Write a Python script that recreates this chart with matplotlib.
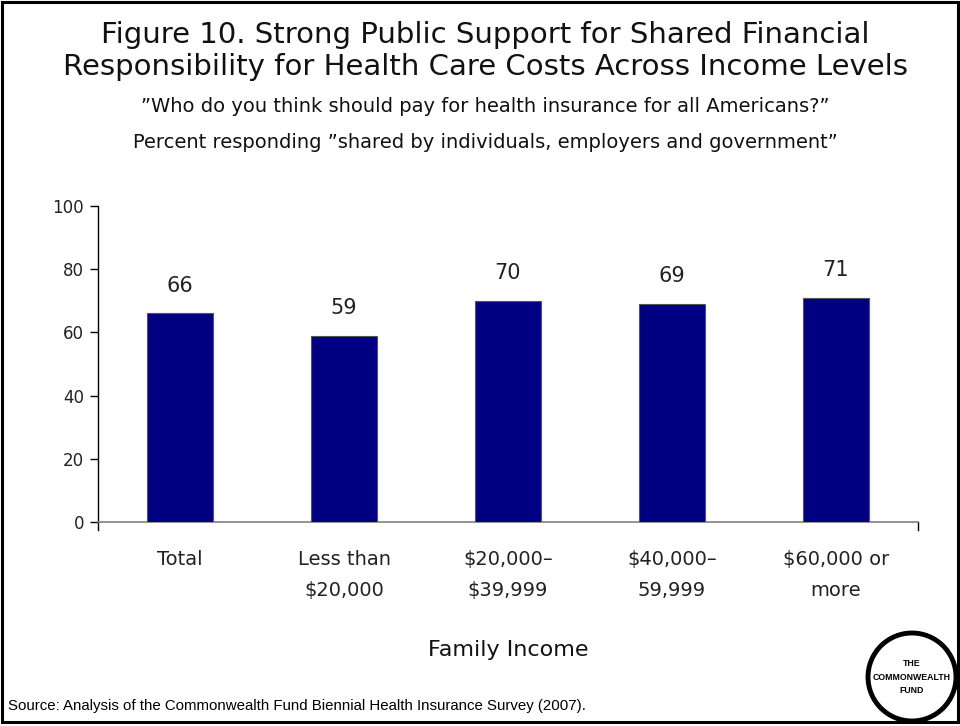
import matplotlib
matplotlib.use("Agg")
import matplotlib.pyplot as plt
from matplotlib.patches import Rectangle, Ellipse
from matplotlib.lines import Line2D

plt.rcParams["font.family"] = ["DejaVu Sans"]

categories = ["Total", "Less than\n$20,000", "$20,000–\n$39,999", "$40,000–\n59,999", "$60,000 or\nmore"]
values = [66, 59, 70, 69, 71]
y_ticks = [0, 20, 40, 60, 80, 100]

title = "Figure 10. Strong Public Support for Shared Financial\nResponsibility for Health Care Costs Across Income Levels"
question = "\u201dWho do you think should pay for health insurance for all Americans?\u201d"
subtitle = "Percent responding \u201dshared by individuals, employers and government\u201d"
xlabel = "Family Income"
source = "Source: Analysis of the Commonwealth Fund Biennial Health Insurance Survey (2007)."

W, H = 960, 726
fig = plt.figure(figsize=(W / 100, H / 100), dpi=100)
fig.patch.set_facecolor("white")

# outer frame
fig.add_artist(Rectangle((2 / W, 4 / H), 956 / W, 720 / H, transform=fig.transFigure,
                         fill=False, edgecolor="black", linewidth=2.2))

ax = fig.add_axes([98 / W, 204 / H, 820 / W, 316 / H])
x = list(range(len(categories)))
ax.bar(x, values, width=0.40, color="#000080", edgecolor="#555555", linewidth=0.8, zorder=3)
ax.set_xlim(-0.5, len(categories) - 0.5)
ax.set_ylim(0, 100)
ax.set_yticks(y_ticks)
ax.set_yticklabels([str(t) for t in y_ticks], fontsize=12, color="#222222")
ax.set_xticks(x)
ax.set_xticklabels(categories, fontsize=14, linespacing=1.82, color="#222222")
ax.tick_params(axis="x", length=0, pad=20)
ax.tick_params(axis="y", direction="out", length=6, width=1, color="black", pad=4)

for s in ["top", "right"]:
    ax.spines[s].set_visible(False)
ax.spines["left"].set_color("black")
ax.spines["left"].set_linewidth(1)
ax.spines["bottom"].set_color("#808080")
ax.spines["bottom"].set_linewidth(1.2)

# small extensions of the axes below the baseline
ax.add_line(Line2D([0, 0], [0, -0.025], transform=ax.transAxes, color="black", lw=1, clip_on=False))
ax.add_line(Line2D([1, 1], [0, -0.025], transform=ax.transAxes, color="black", lw=1, clip_on=False))

for xi, v in zip(x, values):
    ax.annotate(str(v), (xi, v), xytext=(0, 20), textcoords="offset points",
                ha="center", va="center", fontsize=15, color="#222222")

fig.text(485 / W, 1 - 51 / H, title, ha="center", va="center", fontsize=21,
         linespacing=1.22, color="#111111")
fig.text(485 / W, 1 - 107 / H, question, ha="center", va="center", fontsize=14, color="#111111")
fig.text(485 / W, 1 - 143 / H, subtitle, ha="center", va="center", fontsize=14, color="#111111")
fig.text(508 / W, 1 - 650 / H, xlabel, ha="center", va="center", fontsize=16, color="#111111")
fig.text(8 / W, 1 - 706 / H, source, ha="left", va="center", fontsize=10.8,
         family="Liberation Sans", color="black")

# logo
fig.add_artist(Ellipse((912 / W, 1 - 677 / H), 88 / W, 88 / H, transform=fig.transFigure,
                       facecolor="white", edgecolor="black", linewidth=3.5))
fig.text(912 / W, 1 - 677 / H, "THE\nCOMMONWEALTH\nFUND", ha="center", va="center",
         fontsize=6.3, fontweight="bold", family="Liberation Sans", linespacing=1.6)

fig.savefig("out.png", dpi=100, facecolor="white")
